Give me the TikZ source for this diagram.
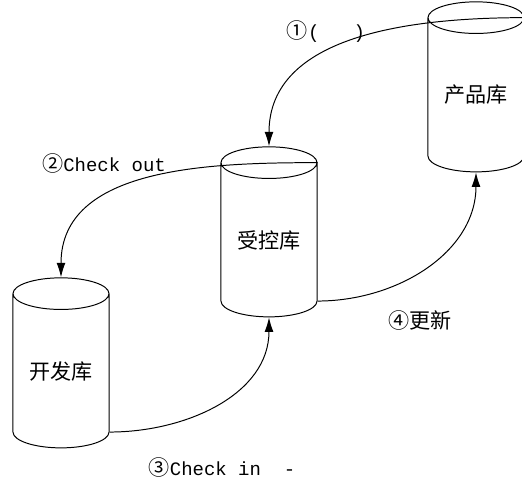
\documentclass[tikz,border=0pt]{standalone}
\usepackage{fontspec}
\setmonofont{Liberation Mono}
\newfontfamily\cjk{Noto Sans CJK SC}
\usetikzlibrary{shapes.geometric,arrows.meta}
\tikzset{
  db/.style={cylinder, shape border rotate=90, draw, line width=0.7pt, aspect=0.5,
    minimum width=2.4cm, minimum height=4.25cm, inner sep=0pt,
    font=\cjk\fontsize{15}{17}\selectfont},
  flow/.style={draw, line width=0.7pt, -{Latex[length=3.6mm,width=2.2mm]}},
  lab/.style={font=\ttfamily\fontsize{13.5}{15}\selectfont, inner sep=0pt},
}
\begin{document}
\begin{tikzpicture}[x=0.025cm,y=-0.025cm]
  \useasboundingbox (0,0) rectangle (522,481);
  % the three stores
  \node[db] (prod) at (476,95) {产品库};
  \node[db] (ctrl) at (269,240) {受控库};
  \node[db] (dev) at (61,371) {开发库};
  % flows between them
  \draw[flow] (prod.after top) to[out=180,in=90] (ctrl.top);
  \draw[flow] (ctrl.after top) to[out=180,in=90] (dev.top);
  \draw[flow] (dev.before bottom) to[out=0,in=-90] (ctrl.bottom);
  \draw[flow] (ctrl.before bottom) to[out=0,in=-90] (prod.bottom);
  % labels
  \node[lab] (l1) at (326,32) {{\cjk\fontsize{15}{17}\selectfont ①}(\ \ \ )};
  \node[lab] (l2) at (104,163) {{\cjk\fontsize{15}{17}\selectfont ②}Check out};
  \node[lab] (l3) at (222,467) {{\cjk\fontsize{15}{17}\selectfont ③}Check in\ \ -};
  \node[lab] (l4) at (420,320) {\cjk\fontsize{15}{17}\selectfont ④更新};
\end{tikzpicture}
\end{document}
